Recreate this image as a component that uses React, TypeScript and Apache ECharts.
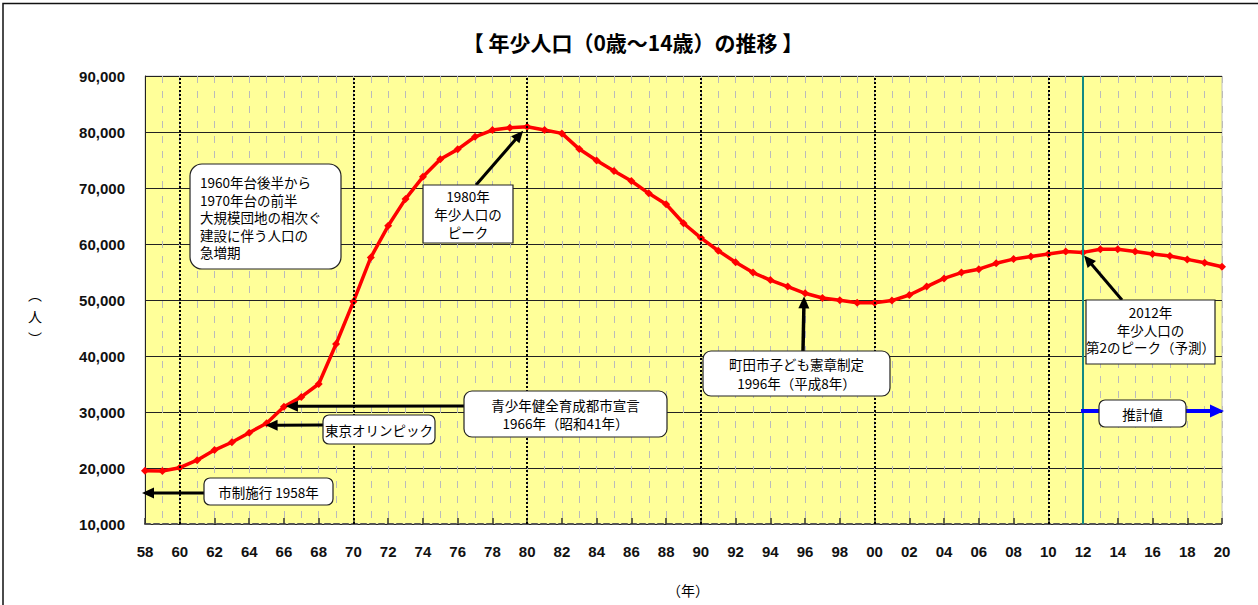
import React, { useEffect, useRef } from 'react';
import * as echarts from 'echarts';

// ---- data ----
const yearLabels = [
  '58', '59', '60', '61', '62', '63', '64', '65', '66', '67', '68', '69',
  '70', '71', '72', '73', '74', '75', '76', '77', '78', '79',
  '80', '81', '82', '83', '84', '85', '86', '87', '88', '89',
  '90', '91', '92', '93', '94', '95', '96', '97', '98', '99',
  '00', '01', '02', '03', '04', '05', '06', '07', '08', '09',
  '10', '11', '12', '13', '14', '15', '16', '17', '18', '19', '20',
];

const youthPopulation = [
  19500, 19450, 20050, 21400, 23200, 24600, 26300, 28000, 30950, 32700, 35000, 42150,
  49700, 57600, 63250, 68050, 72000, 75150, 76900, 79150, 80350, 80750,
  80950, 80350, 79750, 76950, 74900, 73050, 71250, 69050, 67100, 63700,
  61100, 58800, 56750, 54900, 53550, 52400, 51200, 50350, 49950, 49500,
  49500, 49900, 50900, 52400, 53850, 54900, 55500, 56550, 57300, 57750,
  58200, 58650, 58500, 59050, 59050, 58650, 58200, 57850, 57250, 56650, 55950,
];

const yMin = 10000;
const yMax = 90000;
const yInterval = 10000;

const decadeLabels = ['60', '70', '80', '90', '00', '10'];
const forecastStartLabel = '12';

const titleText = '【 年少人口（0歳～14歳）の推移 】';
const xAxisName = '（年）';

const JP = '"Noto Sans CJK JP", "Noto Sans", sans-serif';
const NUM = '"Liberation Sans", Arial, sans-serif';

function arrow(x1: number, y1: number, x2: number, y2: number, color: string, width: number, headLen: number, headW: number) {
  const dx = x2 - x1;
  const dy = y2 - y1;
  const len = Math.hypot(dx, dy);
  const ux = dx / len;
  const uy = dy / len;
  const bx = x2 - ux * headLen;
  const by = y2 - uy * headLen;
  const px = -uy;
  const py = ux;
  return [
    { type: 'line', z: 100, silent: true, shape: { x1, y1, x2: bx + ux * 1, y2: by + uy * 1 }, style: { stroke: color, lineWidth: width } },
    {
      type: 'polygon', z: 100, silent: true,
      shape: { points: [[x2, y2], [bx + (px * headW) / 2, by + (py * headW) / 2], [bx - (px * headW) / 2, by - (py * headW) / 2]] },
      style: { fill: color },
    },
  ];
}

function box(x: number, y: number, w: number, h: number, text: string, r: number, align: 'center' | 'left' = 'center', textY?: number, lineHeight = 18) {
  const tx = align === 'left' ? x + 10 : x + w / 2;
  return [
    {
      type: 'rect', z: 101, silent: true,
      shape: { x, y, width: w, height: h, r },
      style: { fill: '#ffffff', stroke: '#222222', lineWidth: 1.2 },
    },
    {
      type: 'text', z: 102, silent: true,
      x: tx, y: textY ?? y + h / 2,
      style: {
        text, fill: '#000000', fontSize: 13.5, fontFamily: JP, lineHeight,
        align, textAlign: align, verticalAlign: 'middle', textVerticalAlign: 'middle',
      },
    },
  ];
}

export default function App() {
  const ref = useRef<HTMLDivElement>(null);

  useEffect(() => {
    if (!ref.current) return;
    const chart = echarts.init(ref.current, null, { renderer: 'svg' });

    const markLineData: any[] = decadeLabels.map((l) => ({
      xAxis: yearLabels.indexOf(l),
      lineStyle: { color: '#000000', width: 2, type: [2, 2] },
    }));
    markLineData.push({
      xAxis: yearLabels.indexOf(forecastStartLabel),
      lineStyle: { color: '#118a84', width: 2, type: 'solid' },
    });

    const option: any = {
      animation: false,
      backgroundColor: '#ffffff',
      grid: {
        left: 145, top: 76, width: 1077, height: 448,
        show: true, backgroundColor: '#FFFF99', borderColor: '#c0c0c0', borderWidth: 1,
      },
      xAxis: {
        type: 'category',
        data: yearLabels,
        boundaryGap: false,
        axisLine: { show: true, onZero: false, lineStyle: { color: '#555555', width: 2, type: [5, 4] } },
        axisTick: { show: true, inside: true, interval: 1, length: 6, lineStyle: { color: '#333333', width: 1.5 } },
        axisLabel: { interval: 1, margin: 20, fontSize: 15, fontWeight: 'bold', fontFamily: NUM, color: '#111111' },
        splitLine: { show: true, interval: 0, lineStyle: { color: '#bbbbbb', width: 1, type: [7, 8] } },
      },
      yAxis: {
        type: 'value',
        min: yMin, max: yMax, interval: yInterval,
        axisLine: { show: true, lineStyle: { color: '#222222', width: 1 } },
        axisTick: { show: false },
        axisLabel: {
          margin: 20, fontSize: 15, fontWeight: 'bold', fontFamily: NUM, color: '#111111',
          formatter: (v: number) => v.toLocaleString('en-US'),
        },
        splitLine: { show: true, lineStyle: { color: '#222222', width: 1 } },
      },
      series: [
        {
          type: 'line', data: [], z: 1, silent: true,
          markLine: { silent: true, symbol: ['none', 'none'], label: { show: false }, animation: false, data: markLineData },
        },
        {
          type: 'line', data: youthPopulation, z: 3,
          symbol: 'diamond', symbolSize: 8,
          lineStyle: { color: '#ff0000', width: 3.5 },
          itemStyle: { color: '#ff0000' },
        },
      ],
    };

    chart.setOption(option);

    const pt = (label: string) => {
      const i = yearLabels.indexOf(label);
      return chart.convertToPixel({ seriesIndex: 1 }, [i, youthPopulation[i]]) as number[];
    };

    const p58 = pt('58');
    const p65 = pt('65');
    const p66 = pt('66');
    const p80 = pt('80');
    const p96 = pt('96');
    const p12 = pt('12');
    const p20 = pt('20');

    const graphics: any[] = [
      { type: 'rect', z: 0, silent: true, shape: { x: 3, y: 3.5, width: 1300, height: 700 }, style: { fill: 'none', stroke: '#111111', lineWidth: 1.5 } },
      {
        type: 'text', z: 102, silent: true, x: 633, y: 42,
        style: { text: titleText, fill: '#000000', fontSize: 21, fontWeight: 'bold', fontFamily: JP, align: 'center', textAlign: 'center', verticalAlign: 'middle', textVerticalAlign: 'middle' },
      },
      {
        type: 'text', z: 102, silent: true, x: 688, y: 590,
        style: { text: xAxisName, fill: '#000000', fontSize: 14, fontFamily: JP, align: 'center', textAlign: 'center', verticalAlign: 'middle', textVerticalAlign: 'middle' },
      },
      ...['︵', '人', '︶'].map((c, i) => ({
        type: 'text', z: 102, silent: true, x: 35, y: 294 + i * 22,
        style: { text: c, fill: '#000000', fontSize: 14, fontFamily: JP, align: 'center', textAlign: 'center', verticalAlign: 'middle', textVerticalAlign: 'middle' },
      })),
      // arrows
      ...arrow(205, 493, p58[0] - 3, 493, '#000000', 3, 12, 11),
      ...arrow(323, 425, p65[0] - 1, p65[1] + 2, '#000000', 3, 12, 11),
      ...arrow(465, 406, p66[0] + 2, p66[1] - 0.5, '#000000', 3, 12, 11),
      ...arrow(476, 185, p80[0] - 4, p80[1] + 4, '#000000', 3, 12, 11),
      ...arrow(803, 351, p96[0] - 1, p96[1] + 3, '#000000', 3.5, 12, 11),
      ...arrow(1122, 300, p12[0] + 1, p12[1] + 3, '#000000', 3, 12, 11),
      ...arrow(p12[0] - 2, 411, p20[0] + 2, 411, '#0000ff', 4, 14, 13),
      // boxes
      ...box(190, 164, 151, 105, '1960年台後半から\n1970年台の前半\n大規模団地の相次ぐ\n建設に伴う人口の\n急増期', 12, 'left', 217, 17.5),
      ...box(423, 185, 90, 58, '1980年\n年少人口の\nピーク', 0, 'center', 214, 17.8),
      ...box(464, 391, 203, 46, '青少年健全育成都市宣言\n1966年（昭和41年）', 8, 'center', 414, 18.3),
      ...box(323, 415, 112, 29, '東京オリンピック', 6, 'center', 429.5),
      ...box(204, 478, 129, 27, '市制施行 1958年', 6, 'center', 491.5),
      ...box(703, 351, 187, 45, '町田市子ども憲章制定\n1996年（平成8年）', 8, 'center', 373.5, 18.3),
      ...box(1086, 300, 129, 64, '2012年\n年少人口の\n第2のピーク（予測）', 0, 'center', 329.5, 17.7),
      ...box(1099, 400, 87, 27, '推計値', 6, 'center', 413.5),
    ];

    chart.setOption({ graphic: graphics });

    return () => {
      chart.dispose();
    };
  }, []);

  return (
    <div
      ref={ref}
      style={{ position: 'fixed', left: 0, top: 0, width: 1258, height: 605, background: '#ffffff' }}
    />
  );
}
